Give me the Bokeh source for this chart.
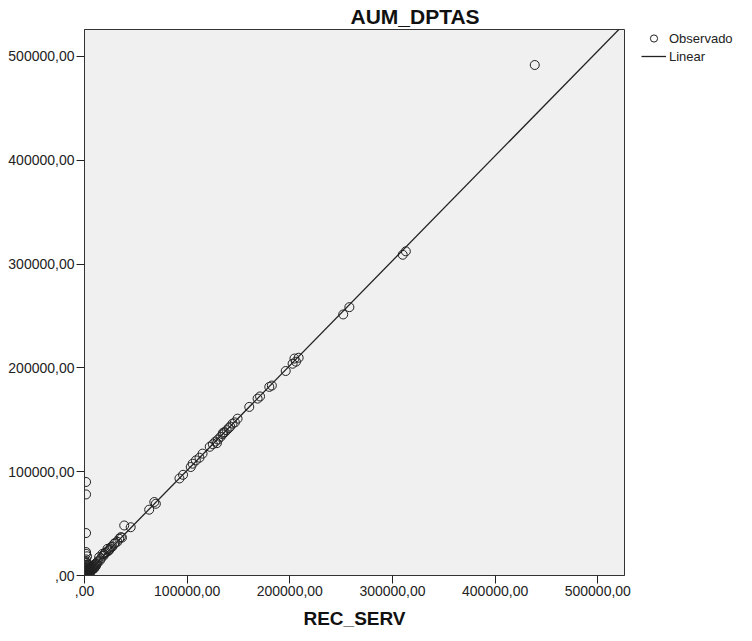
from bokeh.plotting import figure
from bokeh.models import Legend, LegendItem, FixedTicker, Range1d
from bokeh.embed import file_html
from bokeh.resources import INLINE
import numpy as np

# ---- data ----
REC_SERV = [
    438600, 310000, 313000, 252000, 258000,
    196000, 202700, 204500, 208600, 206000,
    180000, 182500, 168600, 171000, 160500, 149100, 144200, 146500,
    122000, 125000, 127500, 130000, 132500, 134500, 136500, 138500, 140500, 142000, 129000, 135000,
    115000, 112000, 108500, 105300,
    92500, 96000, 103500,
    63000, 68000, 69500,
    38700, 35400, 33800, 28900, 22400, 17500, 14300,
    1500, 1500, 1500, 1500, 1500, 2500, 1500,
    1000, 2000, 3000, 4000, 5000, 6000, 7000, 8000, 9000, 10000, 11000, 12000, 13000,
    2500, 1500, 3500, 1500, 1500, 6000, 8000, 10000, 12000, 15000, 16000, 18500, 20000,
    24000, 26000, 30000, 32000, 36500, 45000, 27300, 1500, 1500, 4500, 5500, 7500, 9500,
    1500, 2500, 3500, 4500, 5500, 1500, 2500, 3500, 4500, 1500, 2500, 3500,
    1500, 2500, 1500, 5000, 7000, 9000, 11000, 19000, 21000, 23000, 25000,
]
AUM_DPTAS = [
    491800, 309000, 312300, 251500, 258500,
    197000, 204000, 209000, 209800, 206000,
    181700, 183000, 170400, 172500, 162400, 151100, 146300, 147500,
    124000, 126500, 129000, 131000, 133500, 136000, 138000, 140000, 142000, 143500, 127500, 137500,
    117400, 113500, 110900, 107700,
    93500, 97000, 104500,
    63400, 70800, 69100,
    48200, 37000, 35400, 30600, 25700, 20900, 17700,
    90100, 78100, 40900, 20900, 12900, 18500, 22600,
    1000, 2500, 3000, 4500, 5500, 6000, 7500, 8500, 9500, 10500, 11500, 12500, 13500,
    1500, 3500, 6500, 5000, 8000, 4000, 6500, 8500, 11000, 14500, 16500, 19000, 21500,
    24500, 27500, 31500, 32500, 36500, 46500, 28000, 3000, 6000, 2000, 3000, 5500, 7000,
    1500, 2000, 4500, 6500, 8000, 4500, 6000, 8500, 10000, 7000, 9500, 11000,
    10000, 12000, 15500, 3000, 5000, 7000, 9000, 20500, 22500, 23500, 26000,
]
FIT_INTERCEPT = 300
FIT_SLOPE = 1.01
AXIS_MAX = 526000
TICKS = [0, 100000, 200000, 300000, 400000, 500000]
TICK_LABELS = [",00", "100000,00", "200000,00", "300000,00", "400000,00", "500000,00"]
TITLE = "AUM_DPTAS"
X_LABEL = "REC_SERV"
LEGEND_LABELS = ["Observado", "Linear"]

FONT = "Liberation Sans"

p = figure(
    output_backend="svg", toolbar_location=None,
    frame_width=540, frame_height=546,
    min_border_left=84, min_border_right=112, min_border_top=28, min_border_bottom=51,
    x_range=Range1d(0, AXIS_MAX), y_range=Range1d(0, AXIS_MAX),
    background_fill_color="#F0F0F0", border_fill_color="white",
    title=TITLE,
)
p.title.align = "left"
p.title.offset = 266
p.title.standoff = 4
p.title.text_font = FONT
p.title.text_font_style = "bold"
p.title.text_font_size = "21px"
p.title.text_color = "#111111"

p.outline_line_color = "#333333"
p.outline_line_width = 1
p.grid.visible = False

for ax in (p.xaxis[0], p.yaxis[0]):
    ax.ticker = FixedTicker(ticks=TICKS)
    ax.major_label_overrides = {t: l for t, l in zip(TICKS, TICK_LABELS)}
    ax.minor_tick_line_color = None
    ax.major_tick_in = 0
    ax.major_tick_out = 8
    ax.major_tick_line_color = "#222222"
    ax.axis_line_color = "#333333"
    ax.major_label_text_font = FONT
    ax.major_label_text_font_size = "14px"
    ax.major_label_text_color = "#222222"
    ax.major_label_standoff = 2

p.xaxis.axis_label = X_LABEL
p.xaxis.axis_label_text_font = FONT
p.xaxis.axis_label_text_font_style = "bold"
p.xaxis.axis_label_text_font_size = "19px"
p.xaxis.axis_label_text_color = "#111111"
p.xaxis.axis_label_standoff = 9

obs = p.scatter(REC_SERV, AUM_DPTAS, marker="circle", size=9,
                fill_color=None, line_color="#222222", line_width=1)

xs = np.array([0, AXIS_MAX])
ys = FIT_INTERCEPT + FIT_SLOPE * xs
lin = p.line(xs, ys, line_color="#222222", line_width=1.3)

legend = Legend(
    items=[LegendItem(label=LEGEND_LABELS[0], renderers=[obs]),
           LegendItem(label=LEGEND_LABELS[1], renderers=[lin])],
    location=(17, 510),
    background_fill_alpha=0, border_line_color=None,
    label_text_font=FONT, label_text_font_size="13px", label_text_color="#222222",
    glyph_width=25, glyph_height=18, label_height=18, label_standoff=3,
    spacing=0, padding=0, margin=0,
)
p.add_layout(legend, "right")

open("out.html", "w").write(file_html(p, INLINE))
